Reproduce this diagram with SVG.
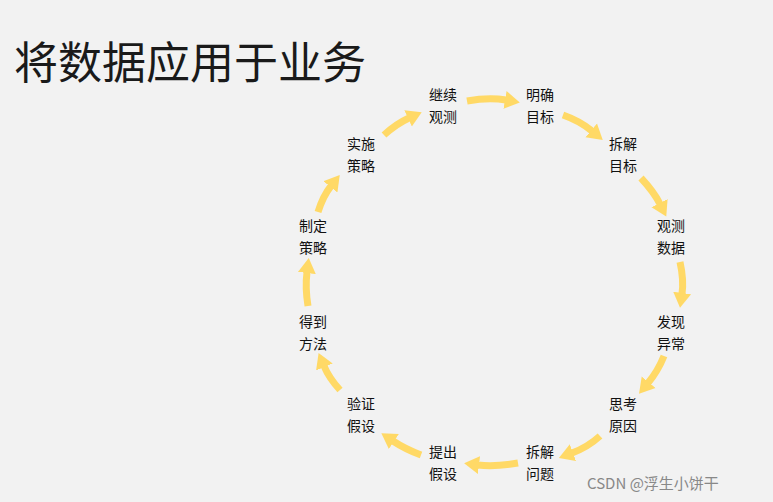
<svg xmlns="http://www.w3.org/2000/svg" width="773" height="502" viewBox="0 0 773 502">
<style>
text{font-family:"Noto Sans CJK SC","Liberation Sans",sans-serif;font-size:14px;fill:#111}
.t{font-size:44px;fill:#1a1a1a}
.a{fill:none;stroke:#FFD966;stroke-width:7;marker-end:url(#h)}
</style>
<defs><marker id="h" markerUnits="userSpaceOnUse" markerWidth="16" markerHeight="20" refX="1" refY="10" orient="auto"><polygon points="0,1 15,10 0,19" fill="#FFD966"/></marker></defs>
<rect width="773" height="502" fill="#f2f2f2"/>
<text class="t" x="14" y="79">将数据应用于业务</text>
<g id="connectors">
<path class="a" d="M467,101 Q489,97 506,100"/>
<path class="a" d="M563,115 Q580,121 592,131"/>
<path class="a" d="M641,178 Q654,192 660,204"/>
<path class="a" d="M680,262 Q684,280 682,294"/>
<path class="a" d="M664,356 Q658,371 648,383"/>
<path class="a" d="M600,436 Q588,447 572,453"/>
<path class="a" d="M518,463 Q495,467 478,465"/>
<path class="a" d="M421,455 Q405,449 393,441"/>
<path class="a" d="M340,390 Q329,378 324,366"/>
<path class="a" d="M308,306 Q305,288 307,272"/>
<path class="a" d="M318,212 Q323,196 331,186"/>
<path class="a" d="M384,135 Q396,124 409,118"/>
</g>
<g id="n1"><text x="429" y="100">继续</text><text x="429" y="122">观测</text></g>
<g id="n2"><text x="526" y="100">明确</text><text x="526" y="122">目标</text></g>
<g id="n3"><text x="609" y="149">拆解</text><text x="609" y="171">目标</text></g>
<g id="n4"><text x="657" y="231">观测</text><text x="657" y="253">数据</text></g>
<g id="n5"><text x="657" y="327">发现</text><text x="657" y="349">异常</text></g>
<g id="n6"><text x="609" y="409">思考</text><text x="609" y="431">原因</text></g>
<g id="n7"><text x="526" y="457">拆解</text><text x="526" y="479">问题</text></g>
<g id="n8"><text x="429" y="457">提出</text><text x="429" y="479">假设</text></g>
<g id="n9"><text x="347" y="409">验证</text><text x="347" y="431">假设</text></g>
<g id="n10"><text x="299" y="327">得到</text><text x="299" y="349">方法</text></g>
<g id="n11"><text x="299" y="231">制定</text><text x="299" y="253">策略</text></g>
<g id="n12"><text x="347" y="149">实施</text><text x="347" y="171">策略</text></g>
<text x="587" y="489" style="font-size:15px;fill:#888">CSDN @浮生小饼干</text>
</svg>
